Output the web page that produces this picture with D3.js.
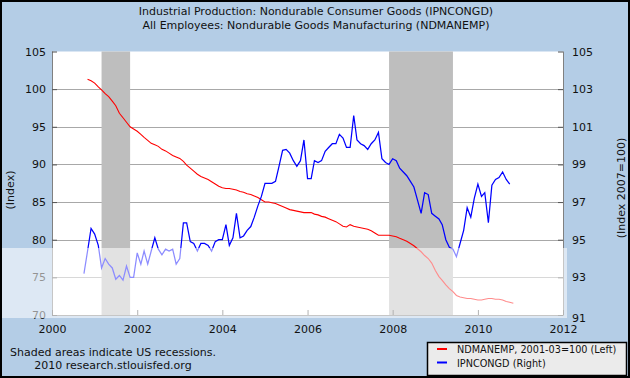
<!DOCTYPE html>
<html><head><meta charset="utf-8">
<script src="https://cdn.jsdelivr.net/npm/d3@7"></script>
<style>
body{margin:0;background:#fff;}
svg{display:block;font-family:"DejaVu Sans",Verdana,sans-serif;}
</style>
</head><body>
<svg id="chart" width="630" height="378"></svg>
<script>
// ---------- data ----------
const titleLines = [
  "Industrial Production: Nondurable Consumer Goods (IPNCONGD)",
  "All Employees: Nondurable Goods Manufacturing (NDMANEMP)"
];
const xTickYears = [2000, 2002, 2004, 2006, 2008, 2010, 2012];
const leftTicks = [70, 75, 80, 85, 90, 95, 100, 105];
const rightTicks = [91, 93, 95, 97, 99, 101, 103, 105];
const recessions = [["2001-03-01", "2001-11-01"], ["2007-12-01", "2009-06-01"]];

// NDMANEMP, 2001-03=100 (left axis), monthly from Nov 2000
const ndmanempStart = "2000-11-01";
const ndmanemp = [
  101.3,101.1,100.8,100.3,99.9,99.4,99.0,98.4,97.8,96.8,96.2,95.6,
  95.0,94.7,94.4,94.0,93.6,93.2,92.8,92.6,92.4,92.0,91.8,91.5,
  91.2,91.0,90.8,90.4,89.9,89.5,89.1,88.7,88.4,88.2,88.0,87.7,
  87.4,87.1,86.9,86.8,86.8,86.7,86.6,86.4,86.3,86.1,86.0,85.8,
  85.6,85.3,85.0,85.0,84.9,84.8,84.6,84.4,84.2,84.0,83.9,83.8,
  83.7,83.6,83.6,83.6,83.4,83.3,83.1,83.0,82.8,82.6,82.4,82.1,
  81.8,81.7,82.0,81.8,81.7,81.6,81.5,81.4,81.2,80.9,80.6,80.6,
  80.6,80.6,80.5,80.4,80.2,80.0,79.8,79.5,79.2,78.8,78.4,77.9,
  77.5,76.9,75.9,75.1,74.6,74.0,73.5,73.1,72.6,72.4,72.3,72.2,
  72.2,72.1,72.0,72.0,72.1,72.2,72.2,72.1,72.1,72.0,71.8,71.7,
  71.55
];

// IPNCONGD, Index 2007=100 (right axis), monthly from Oct 2000
const ipncongdStart = "2000-10-01";
const ipncongd = [
  93.2,94.4,95.6,95.3,94.7,93.5,94.0,93.7,93.5,92.9,93.1,92.85,
  93.6,93.0,93.0,94.3,93.7,94.4,93.7,94.4,95.1,94.5,94.2,94.5,
  94.4,94.5,93.7,94.0,95.9,95.9,94.9,94.8,94.4,94.8,94.8,94.7,
  94.4,94.9,95.0,95.0,95.8,94.7,95.1,96.4,95.1,95.2,95.5,95.7,
  96.2,96.8,97.3,98.0,98.0,98.0,98.1,98.9,99.75,99.8,99.6,99.2,
  98.9,99.2,100.3,98.25,98.25,99.2,99.1,99.2,99.7,99.9,100.1,100.1,
  100.6,100.4,99.9,99.9,101.6,100.3,100.1,100.0,99.8,100.1,100.3,100.7,
  99.3,99.1,99.0,99.3,99.2,98.8,98.6,98.4,98.1,97.8,97.1,96.4,
  97.5,97.4,96.4,96.25,96.1,95.8,95.0,94.6,94.5,94.1,94.8,95.5,
  96.7,96.2,97.2,97.95,97.3,97.5,95.9,97.9,98.2,98.3,98.6,98.2,
  97.95
];

// ---------- layout ----------
const W = 630, H = 378;
const plot = {left: 52, right: 563, top: 51.5, bottom: 315};
const parse = d3.timeParse("%Y-%m-%d");
const svg = d3.select("#chart");

svg.append("rect").attr("width", W).attr("height", H).attr("fill", "#b4cde6");

const x = d3.scaleTime()
  .domain([new Date(2000, 0, 1), new Date(2012, 0, 1)])
  .range([plot.left, plot.right]);
const yL = d3.scaleLinear().domain([70, 105]).range([plot.bottom, plot.top]);
const yR = d3.scaleLinear().domain([91, 105]).range([plot.bottom, plot.top]);

// plot background
svg.append("rect")
  .attr("x", plot.left).attr("y", plot.top)
  .attr("width", plot.right - plot.left).attr("height", plot.bottom - plot.top)
  .attr("fill", "#fff");

// grid lines
svg.append("g").selectAll("line")
  .data(leftTicks.filter(d => d > 70 && d < 105))
  .join("line")
  .attr("x1", plot.left).attr("x2", plot.right)
  .attr("y1", d => Math.round(yL(d)) + 0.5).attr("y2", d => Math.round(yL(d)) + 0.5)
  .attr("stroke", "#a8a8a8").attr("stroke-width", 1);

// recession shading
svg.append("g").selectAll("rect")
  .data(recessions)
  .join("rect")
  .attr("x", d => x(parse(d[0])))
  .attr("width", d => x(parse(d[1])) - x(parse(d[0])))
  .attr("y", plot.top).attr("height", plot.bottom - plot.top)
  .attr("fill", "#bebebe");

// series
const mkData = (start, arr) => arr.map((v, i) => ({d: d3.timeMonth.offset(parse(start), i), v}));
const redData = mkData(ndmanempStart, ndmanemp);
const blueData = mkData(ipncongdStart, ipncongd);

svg.append("path").datum(redData)
  .attr("fill", "none").attr("stroke", "#ff0000").attr("stroke-width", 1.1)
  .attr("d", d3.line().x(d => x(d.d)).y(d => yL(d.v)));
svg.append("path").datum(blueData)
  .attr("fill", "none").attr("stroke", "#0000ff").attr("stroke-width", 1.25)
  .attr("d", d3.line().x(d => x(d.d)).y(d => yR(d.v)));

// plot border (left, bottom, right)
svg.append("path")
  .attr("d", `M${plot.left + 0.5},${plot.top}V${plot.bottom + 0.5}H${plot.right + 0.5}V${plot.top}`)
  .attr("fill", "none").attr("stroke", "#808080").attr("stroke-width", 1);

// axes
const styleAxis = g => {
  g.select(".domain").remove();
  g.selectAll(".tick line").attr("stroke", "#555");
  g.selectAll(".tick text").attr("fill", "#111").style("font-size", "11px")
    .style("font-family", "'DejaVu Sans',Verdana,sans-serif");
};

svg.append("g").attr("transform", `translate(${plot.left},0)`)
  .call(d3.axisLeft(yL).tickValues(leftTicks).tickFormat(d3.format("d"))
    .tickSizeInner(-5).tickSizeOuter(0).tickPadding(6))
  .call(styleAxis);

svg.append("g").attr("transform", `translate(${plot.right},0)`)
  .call(d3.axisRight(yR).tickValues(rightTicks).tickFormat(d3.format("d"))
    .tickSizeInner(-5).tickSizeOuter(0).tickPadding(9))
  .call(styleAxis)
  .call(g => g.selectAll(".tick text").filter(d => d === 91).attr("dy", "0.55em"));

svg.append("g").attr("transform", `translate(0,${plot.bottom})`)
  .call(d3.axisBottom(x).tickValues(xTickYears.map(y => new Date(y, 0, 1)))
    .tickFormat(d3.timeFormat("%Y")).tickSizeInner(-5).tickSizeOuter(0).tickPadding(10))
  .call(styleAxis);

// axis titles
svg.append("text").attr("transform", `translate(14,190) rotate(-90)`)
  .attr("text-anchor", "middle").style("font-size", "11px").attr("fill", "#111")
  .text("(Index)");
svg.append("text").attr("transform", `translate(625,188) rotate(-90)`)
  .attr("text-anchor", "middle").style("font-size", "11px").attr("fill", "#111")
  .text("(Index 2007=100)");

// title
svg.append("g").selectAll("text").data(titleLines).join("text")
  .attr("x", 316).attr("y", (d, i) => 15 + i * 14)
  .attr("text-anchor", "middle").style("font-size", "11px").attr("fill", "#111")
  .text(d => d);

// footnote
const notes = ["Shaded areas indicate US recessions.", "2010 research.stlouisfed.org"];
svg.append("g").selectAll("text").data(notes).join("text")
  .attr("x", 113).attr("y", (d, i) => 355.5 + i * 13.5)
  .attr("text-anchor", "middle").style("font-size", "11px").attr("fill", "#111")
  .text(d => d);

// legend
const legendItems = [
  {label: "NDMANEMP, 2001-03=100 (Left)", color: "#ff0000"},
  {label: "IPNCONGD (Right)", color: "#0000ff"}
];
const lg = svg.append("g");
lg.append("rect").attr("x", 427.5).attr("y", 342.5).attr("width", 199).attr("height", 33)
  .attr("fill", "#ebebeb").attr("stroke", "#000").attr("stroke-width", 1.5);
const li = lg.selectAll("g").data(legendItems).join("g")
  .attr("transform", (d, i) => `translate(0,${349 + i * 13.5})`);
li.append("line").attr("x1", 437).attr("x2", 447).attr("y1", 0).attr("y2", 0)
  .attr("stroke", d => d.color).attr("stroke-width", 2);
li.append("text").attr("x", 457).attr("y", 4).style("font-size", "9.7px").attr("fill", "#111")
  .text(d => d.label);

// watermark band (light overlay in reference)
svg.append("rect").attr("x", 0).attr("y", 248).attr("width", 567).attr("height", 70)
  .attr("fill", "#fff").attr("opacity", 0.55);

// outer border
svg.append("rect").attr("x", 1).attr("y", 1).attr("width", W - 2).attr("height", H - 2)
  .attr("fill", "none").attr("stroke", "#000").attr("stroke-width", 2);
</script>
</body></html>
